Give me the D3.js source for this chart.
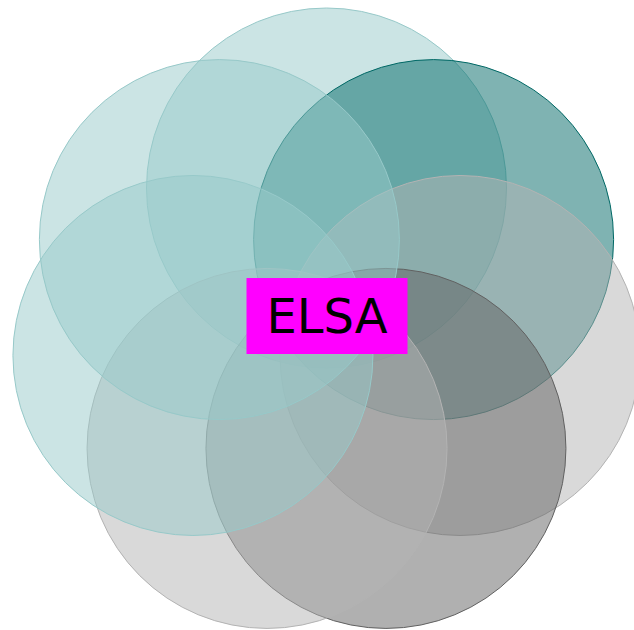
<!DOCTYPE html>
<html>
<head>
<meta charset="utf-8">
<script src="https://cdn.jsdelivr.net/npm/d3@7"></script>
<style>
  html, body { margin: 0; padding: 0; background: #fff; }
  svg { display: block; }
</style>
</head>
<body>
<div id="chart"></div>
<script>
(function(d3) {
    'use strict';

    // Data: seven sets placed round a ring, clockwise from the top
    var sets = ['s1', 's2', 's3', 's4', 's5', 's6', 's7'];
    var groups = ['teal', 'teal', 'gray', 'gray', 'gray', 'teal', 'teal'];
    var weights = [1, 2, 1, 2, 1, 1, 1];
    var title = 'ELSA';

    // Chart vars
    var width = 634;
    var height = 630;
    var cx = 326.5;
    var cy = 325;
    var ringRadius = 137;
    var circleRadius = 180;

    // Colour by group and weight
    var tealColor = d3.scaleLinear()
        .domain([1, 2])
        .range(['#97c9c9', '#006865']);
    var grayColor = d3.scaleLinear()
        .domain([1, 2])
        .range(['#b3b3b3', '#616161']);

    // Angle of each set on the ring
    var angle = d3.scaleLinear()
        .domain([0, sets.length])
        .range([-Math.PI / 2, 3 * Math.PI / 2]);

    var svg = d3.select('#chart')
        .append('svg')
        .attr('width', width)
        .attr('height', height);

    var ring = svg.append('g')
        .attr('transform', 'translate(' + cx + ',' + cy + ')');

    var data = sets.map(function(s, i) {
        var c = groups[i] === 'teal' ? tealColor(weights[i]) : grayColor(weights[i]);
        return { name: s, i: i, color: c };
    });

    ring.selectAll('circle')
        .data(data)
        .enter()
        .append('circle')
        .attr('cx', function(d) { return ringRadius * Math.cos(angle(d.i)); })
        .attr('cy', function(d) { return ringRadius * Math.sin(angle(d.i)); })
        .attr('r', circleRadius)
        .attr('fill', function(d) { return d.color; })
        .attr('fill-opacity', 0.5)
        .attr('stroke', function(d) { return d.color; })
        .attr('stroke-width', 1);

    // Title label in the middle
    var label = svg.append('g')
        .attr('transform', 'translate(' + 327 + ',' + 316 + ')');

    label.append('rect')
        .attr('x', -80.5)
        .attr('y', -38)
        .attr('width', 161)
        .attr('height', 76)
        .attr('fill', '#ff00ff');

    label.append('text')
        .attr('text-anchor', 'middle')
        .attr('dy', '0.36em')
        .style('font-family', 'DejaVu Sans, sans-serif')
        .style('font-size', '48px')
        .style('fill', '#000')
        .text(title);

})(window.d3);
</script>
</body>
</html>
